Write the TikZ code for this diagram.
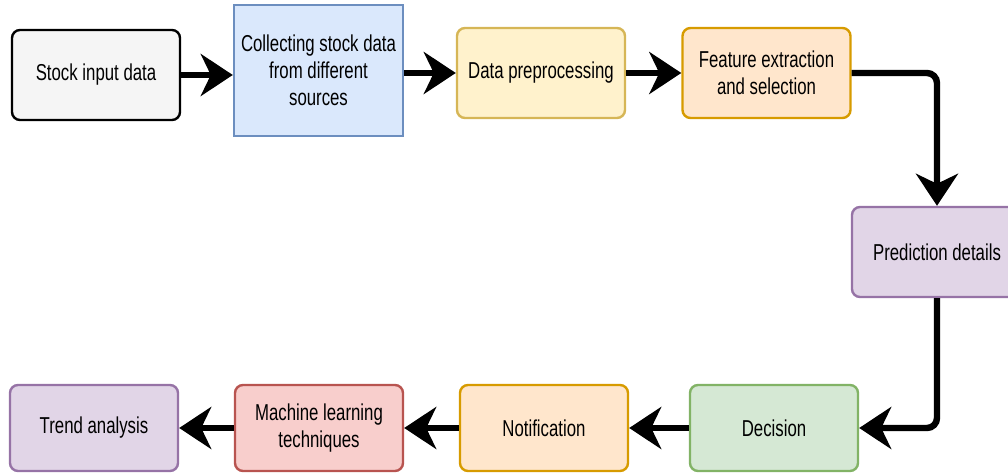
\documentclass[tikz,border=0pt]{standalone}
\usepackage{fontspec}
\setmainfont{Liberation Sans}
\newfontfamily\nf[FakeStretch=0.73]{Liberation Sans}
\usetikzlibrary{arrows.meta}
\definecolor{gfill}{HTML}{F5F5F5}
\definecolor{bfill}{HTML}{DAE8FC}\definecolor{bdraw}{HTML}{6C8EBF}
\definecolor{yfill}{HTML}{FFF2CC}\definecolor{ydraw}{HTML}{D6B656}
\definecolor{ofill}{HTML}{FFE6CC}\definecolor{odraw}{HTML}{D79B00}
\definecolor{pfill}{HTML}{E1D5E7}\definecolor{pdraw}{HTML}{9673A6}
\definecolor{gnfill}{HTML}{D5E8D4}\definecolor{gndraw}{HTML}{82B366}
\definecolor{rfill}{HTML}{F8CECC}\definecolor{rdraw}{HTML}{B85450}
\tikzset{
  box/.style={draw, line width=1.2pt, rounded corners=4pt, minimum width=84pt, minimum height=45pt,
    align=center, inner sep=2pt, font=\nf\fontsize{11.5}{13.5}\selectfont, text=black},
  flow/.style={line width=3.2pt, -{Stealth[length=16pt,width=21pt,inset=5pt]}, rounded corners=5pt}
}
\begin{document}
\begin{tikzpicture}[x=0.5pt,y=-0.5pt]
\useasboundingbox (0,0) rectangle (1008,475);
\node[box, fill=gfill, draw=black] (n1) at (96,75) {Stock input data};
\node[box, fill=bfill, draw=bdraw, rounded corners=0pt, minimum height=65.5pt, minimum width=84.5pt] (n2) at (318.5,70.5) {Collecting stock data\\from different\\sources};
\node[box, fill=yfill, draw=ydraw] (n3) at (541,73) {Data preprocessing};
\node[box, fill=ofill, draw=odraw] (n4) at (766.5,73) {Feature extraction\\and selection};
\node[box, fill=pfill, draw=pdraw, minimum width=85pt] (n5) at (937,252) {Prediction details};
\node[box, fill=gnfill, draw=gndraw, minimum height=43pt] (n6) at (774,428) {Decision};
\node[box, fill=ofill, draw=odraw, minimum height=43pt] (n7) at (544,428) {Notification};
\node[box, fill=rfill, draw=rdraw, minimum height=43pt] (n8) at (319,428) {Machine learning\\techniques};
\node[box, fill=pfill, draw=pdraw, minimum height=43pt] (n9) at (94,428) {Trend analysis};
\draw[flow] (n1.east) -- (n1.east -| n2.west);
\draw[flow] (n2.east |- n3.west) -- (n3.west);
\draw[flow] (n3) -- (n4);
\draw[flow] (n4.east) -| (n5.north);
\draw[flow] (n5.south) |- (n6.east);
\draw[flow] (n6) -- (n7);
\draw[flow] (n7) -- (n8);
\draw[flow] (n8) -- (n9);
\end{tikzpicture}
\end{document}
